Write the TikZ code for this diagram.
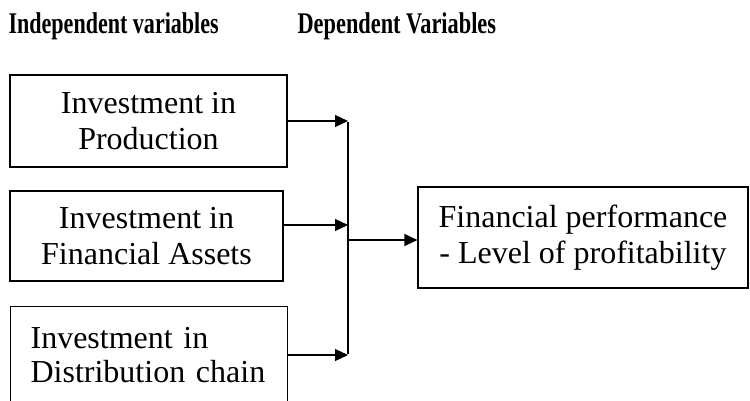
\documentclass[tikz,border=0pt]{standalone}
\usepackage{fontspec}
\setmainfont{Liberation Serif}
\usetikzlibrary{arrows.meta}

\begin{document}
\begin{tikzpicture}[x=1pt,y=-1pt,>={Triangle[length=13pt,width=12pt]},
    line width=1.2pt,
    varbox/.style={draw,inner sep=0pt,align=center,
      font=\fontsize{32}{36}\selectfont},
    headline/.style={anchor=base west,inner sep=0pt,
      font=\fontsize{30}{32}\selectfont\bfseries}]
  \useasboundingbox (0,0) rectangle (750,400);
  \node[headline] (hind) at (8,33) {\scalebox{0.735}[1]{Independent variables}};
  \node[headline] (hdep) at (297,33) {\scalebox{0.745}[1]{Dependent Variables}};
  % independent variables
  \node[varbox,minimum width=277pt,minimum height=92pt] (prod) at (148.5,121)
    {Investment in\\Production};
  \node[varbox,minimum width=273pt,minimum height=90pt] (fin) at (146.5,236)
    {Investment in\\Financial Assets};
  \node[varbox,anchor=north west,align=left,text width=237pt,
    inner xsep=20pt,minimum height=96pt,
    font=\fontsize{32}{34}\selectfont] (dist) at (10,306)
    {Investment in\\Distribution chain};
  % dependent variable
  \node[varbox,minimum width=330pt,minimum height=101pt] (perf) at (583,237.5)
    {Financial performance\\- Level of profitability};
  % collecting line
  \coordinate (j1) at (348,121);
  \coordinate (j2) at (348,225);
  \coordinate (j3) at (348,355);
  \coordinate (jo) at (348,240);
  \draw ([yshift=-1pt]j1) -- ([yshift=1pt]j3);
  \draw[->] (prod.east) -- (j1);
  \draw[->] (j2 -| fin.east) -- (j2);
  \draw[->] (j3 -| dist.east) -- (j3);
  \draw[->] (jo) -- (jo -| perf.west);
\end{tikzpicture}
\end{document}
